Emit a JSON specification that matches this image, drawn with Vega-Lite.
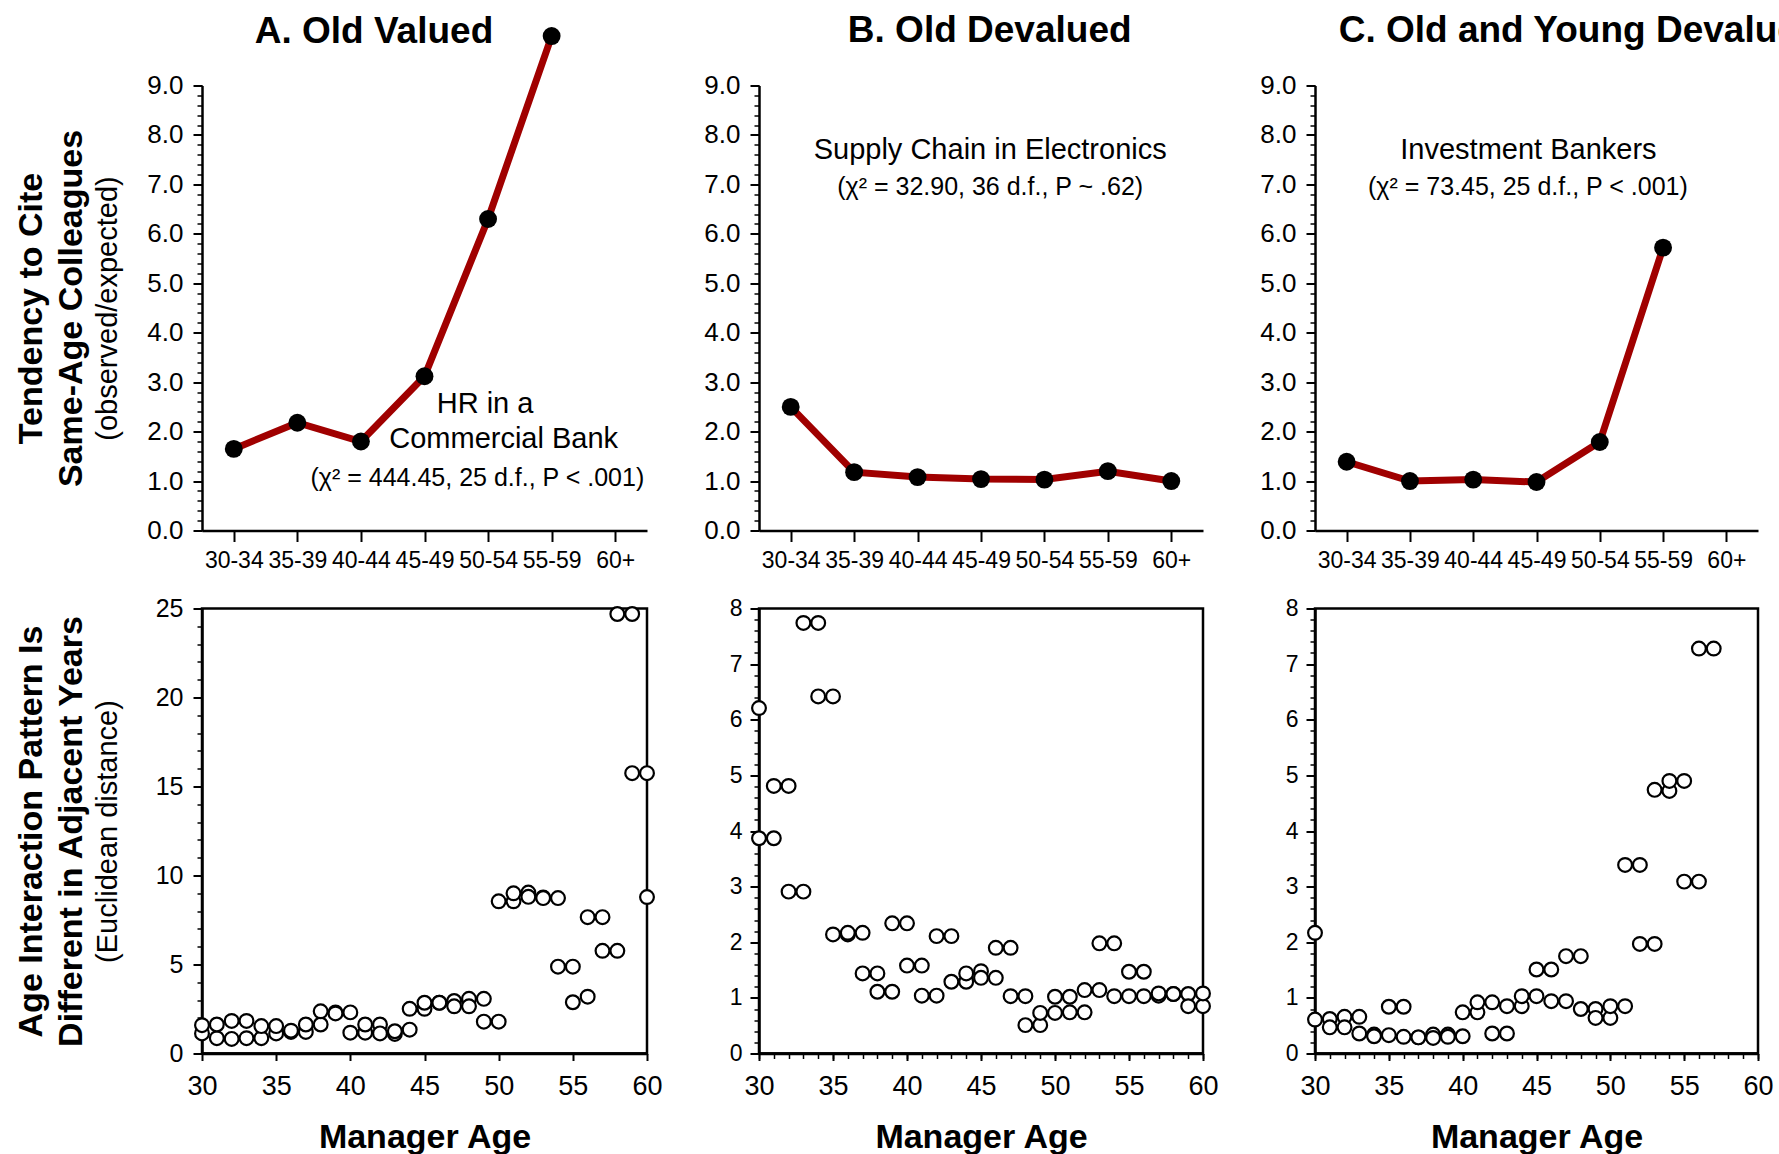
{
  "$schema": "https://vega.github.io/schema/vega-lite/v6.json",
  "background": "white",
  "padding": {"left": 13, "top": 11.5, "right": 5, "bottom": 2},
  "config": {
    "font": "Liberation Sans",
    "view": {"stroke": null},
    "axis": {"grid": false, "domainColor": "black", "tickColor": "black", "labelColor": "black", "titleColor": "black", "labelFont": "Liberation Sans", "titleFont": "Liberation Sans", "labelFlush": false, "labelOverlap": false},
    "title": {"font": "Liberation Sans", "fontSize": 37, "fontWeight": "bold", "color": "black", "anchor": "middle", "frame": "group"},
    "text": {"font": "Liberation Sans", "color": "black"}
  },
  "datasets": {
    "topA": [
      {"age": "30-34", "ratio": 1.65}, {"age": "35-39", "ratio": 2.18}, {"age": "40-44", "ratio": 1.80},
      {"age": "45-49", "ratio": 3.12}, {"age": "50-54", "ratio": 6.30}, {"age": "55-59", "ratio": 10.0}
    ],
    "topB": [
      {"age": "30-34", "ratio": 2.50}, {"age": "35-39", "ratio": 1.18}, {"age": "40-44", "ratio": 1.08},
      {"age": "45-49", "ratio": 1.04}, {"age": "50-54", "ratio": 1.03}, {"age": "55-59", "ratio": 1.20}, {"age": "60+", "ratio": 1.00}
    ],
    "topC": [
      {"age": "30-34", "ratio": 1.39}, {"age": "35-39", "ratio": 1.00}, {"age": "40-44", "ratio": 1.03},
      {"age": "45-49", "ratio": 0.98}, {"age": "50-54", "ratio": 1.79}, {"age": "55-59", "ratio": 5.72}
    ],
    "botA": [
      {"age": 30, "dist": 1.13}, {"age": 30, "dist": 1.59}, {"age": 31, "dist": 0.86}, {"age": 31, "dist": 1.63},
      {"age": 32, "dist": 0.82}, {"age": 32, "dist": 1.83}, {"age": 33, "dist": 0.86}, {"age": 33, "dist": 1.83},
      {"age": 34, "dist": 0.86}, {"age": 34, "dist": 1.54}, {"age": 35, "dist": 1.13}, {"age": 35, "dist": 1.54},
      {"age": 36, "dist": 1.21}, {"age": 36, "dist": 1.28}, {"age": 37, "dist": 1.21}, {"age": 37, "dist": 1.63},
      {"age": 38, "dist": 1.63}, {"age": 38, "dist": 2.37}, {"age": 39, "dist": 2.31}, {"age": 39, "dist": 2.25},
      {"age": 40, "dist": 2.31}, {"age": 40, "dist": 1.17}, {"age": 41, "dist": 1.17}, {"age": 41, "dist": 1.63},
      {"age": 42, "dist": 1.63}, {"age": 42, "dist": 1.13}, {"age": 43, "dist": 1.10}, {"age": 43, "dist": 1.25},
      {"age": 44, "dist": 1.34}, {"age": 44, "dist": 2.51}, {"age": 45, "dist": 2.51}, {"age": 45, "dist": 2.85},
      {"age": 46, "dist": 2.85}, {"age": 46, "dist": 2.85}, {"age": 47, "dist": 2.95}, {"age": 47, "dist": 2.65},
      {"age": 48, "dist": 3.07}, {"age": 48, "dist": 2.65}, {"age": 49, "dist": 3.07}, {"age": 49, "dist": 1.79},
      {"age": 50, "dist": 1.79}, {"age": 50, "dist": 8.55}, {"age": 51, "dist": 8.55}, {"age": 51, "dist": 9.00},
      {"age": 52, "dist": 9.04}, {"age": 52, "dist": 8.80}, {"age": 53, "dist": 8.77}, {"age": 53, "dist": 8.73},
      {"age": 54, "dist": 8.73}, {"age": 54, "dist": 4.88}, {"age": 55, "dist": 4.88}, {"age": 55, "dist": 2.88},
      {"age": 56, "dist": 3.19}, {"age": 56, "dist": 7.66}, {"age": 57, "dist": 7.66}, {"age": 57, "dist": 5.77},
      {"age": 58, "dist": 5.77}, {"age": 58, "dist": 24.69}, {"age": 59, "dist": 24.69}, {"age": 59, "dist": 15.75},
      {"age": 60, "dist": 15.75}, {"age": 60, "dist": 8.79}
    ],
    "botB": [
      {"age": 30, "dist": 6.21}, {"age": 30, "dist": 3.87}, {"age": 31, "dist": 3.87}, {"age": 31, "dist": 4.81},
      {"age": 32, "dist": 4.81}, {"age": 32, "dist": 2.91}, {"age": 33, "dist": 2.91}, {"age": 33, "dist": 7.74},
      {"age": 34, "dist": 7.74}, {"age": 34, "dist": 6.42}, {"age": 35, "dist": 6.42}, {"age": 35, "dist": 2.14},
      {"age": 36, "dist": 2.14}, {"age": 36, "dist": 2.17}, {"age": 37, "dist": 2.17}, {"age": 37, "dist": 1.44},
      {"age": 38, "dist": 1.44}, {"age": 38, "dist": 1.11}, {"age": 39, "dist": 1.11}, {"age": 39, "dist": 2.34},
      {"age": 40, "dist": 2.34}, {"age": 40, "dist": 1.58}, {"age": 41, "dist": 1.58}, {"age": 41, "dist": 1.04},
      {"age": 42, "dist": 1.04}, {"age": 42, "dist": 2.11}, {"age": 43, "dist": 2.11}, {"age": 43, "dist": 1.29},
      {"age": 44, "dist": 1.29}, {"age": 44, "dist": 1.44}, {"age": 45, "dist": 1.48}, {"age": 45, "dist": 1.36},
      {"age": 46, "dist": 1.36}, {"age": 46, "dist": 1.90}, {"age": 47, "dist": 1.90}, {"age": 47, "dist": 1.03},
      {"age": 48, "dist": 1.03}, {"age": 48, "dist": 0.51}, {"age": 49, "dist": 0.51}, {"age": 49, "dist": 0.73},
      {"age": 50, "dist": 0.73}, {"age": 50, "dist": 1.02}, {"age": 51, "dist": 1.02}, {"age": 51, "dist": 0.74},
      {"age": 52, "dist": 0.74}, {"age": 52, "dist": 1.14}, {"age": 53, "dist": 1.14}, {"age": 53, "dist": 1.98},
      {"age": 54, "dist": 1.98}, {"age": 54, "dist": 1.03}, {"age": 55, "dist": 1.03}, {"age": 55, "dist": 1.47},
      {"age": 56, "dist": 1.47}, {"age": 56, "dist": 1.03}, {"age": 57, "dist": 1.04}, {"age": 57, "dist": 1.08},
      {"age": 58, "dist": 1.07}, {"age": 58, "dist": 1.07}, {"age": 59, "dist": 1.07}, {"age": 59, "dist": 0.85},
      {"age": 60, "dist": 0.85}, {"age": 60, "dist": 1.08}
    ],
    "botC": [
      {"age": 30, "dist": 2.17}, {"age": 30, "dist": 0.61}, {"age": 31, "dist": 0.62}, {"age": 31, "dist": 0.47},
      {"age": 32, "dist": 0.66}, {"age": 32, "dist": 0.47}, {"age": 33, "dist": 0.66}, {"age": 33, "dist": 0.36},
      {"age": 34, "dist": 0.34}, {"age": 34, "dist": 0.31}, {"age": 35, "dist": 0.84}, {"age": 35, "dist": 0.33},
      {"age": 36, "dist": 0.84}, {"age": 36, "dist": 0.30}, {"age": 37, "dist": 0.29}, {"age": 37, "dist": 0.29},
      {"age": 38, "dist": 0.34}, {"age": 38, "dist": 0.28}, {"age": 39, "dist": 0.34}, {"age": 39, "dist": 0.30},
      {"age": 40, "dist": 0.31}, {"age": 40, "dist": 0.74}, {"age": 41, "dist": 0.74}, {"age": 41, "dist": 0.92},
      {"age": 42, "dist": 0.92}, {"age": 42, "dist": 0.36}, {"age": 43, "dist": 0.36}, {"age": 43, "dist": 0.85},
      {"age": 44, "dist": 0.85}, {"age": 44, "dist": 1.03}, {"age": 45, "dist": 1.03}, {"age": 45, "dist": 1.51},
      {"age": 46, "dist": 1.51}, {"age": 46, "dist": 0.94}, {"age": 47, "dist": 0.94}, {"age": 47, "dist": 1.75},
      {"age": 48, "dist": 1.75}, {"age": 48, "dist": 0.80}, {"age": 49, "dist": 0.80}, {"age": 49, "dist": 0.64},
      {"age": 50, "dist": 0.64}, {"age": 50, "dist": 0.85}, {"age": 51, "dist": 0.85}, {"age": 51, "dist": 3.39},
      {"age": 52, "dist": 3.39}, {"age": 52, "dist": 1.97}, {"age": 53, "dist": 1.97}, {"age": 53, "dist": 4.74},
      {"age": 54, "dist": 4.72}, {"age": 54, "dist": 4.90}, {"age": 55, "dist": 4.90}, {"age": 55, "dist": 3.09},
      {"age": 56, "dist": 3.09}, {"age": 56, "dist": 7.28}, {"age": 57, "dist": 7.28}
    ]
  },
  "columns": 3,
  "spacing": {"row": 78, "column": 112},
  "bounds": "flush",
  "concat": [
    {
      "width": 445, "height": 445,
      "title": {"text": "A. Old Valued", "dx": -50.5, "dy": 32.5},
      "data": {"name": "topA"},
      "layer": [
        {
          "mark": {"type": "line", "color": "#A00000", "strokeWidth": 7},
          "encoding": {
            "x": {"field": "age", "type": "ordinal", "scale": {"type": "point", "domain": ["30-34", "35-39", "40-44", "45-49", "50-54", "55-59", "60+"], "padding": 0.5},
                  "axis": {"orient": "bottom", "title": null, "labelAngle": 0, "labelFontSize": 23, "labelPadding": 8, "tickSize": 11, "tickWidth": 2, "domainWidth": 2.5}},
            "y": {"field": "ratio", "type": "quantitative", "scale": {"domain": [0, 9], "nice": false, "zero": false},
                  "axis": {"orient": "left", "values": [0, 1, 2, 3, 4, 5, 6, 7, 8, 9], "format": ".1f", "labelFontSize": 26, "labelPadding": 10, "tickSize": 9, "tickWidth": 2, "domainWidth": 2.5, "minExtent": 0, "maxExtent": 400,
                           "title": ["Tendency to Cite", "Same-Age Colleagues"], "titleFontSize": 34, "titleFontWeight": "bold", "titleLineHeight": 40, "titlePadding": 58.2}}
          }
        },
        {
          "mark": {"type": "circle", "color": "black", "size": 320, "opacity": 1},
          "encoding": {
            "x": {"field": "age", "type": "ordinal", "axis": null},
            "y": {"field": "ratio", "type": "quantitative",
                  "axis": {"orient": "left", "values": [0,0.2,0.4,0.6,0.8,1,1.2,1.4,1.6,1.8,2,2.2,2.4,2.6,2.8,3,3.2,3.4,3.6,3.8,4,4.2,4.4,4.6,4.8,5,5.2,5.4,5.6,5.8,6,6.2,6.4,6.6,6.8,7,7.2,7.4,7.6,7.8,8,8.2,8.4,8.6,8.8,9],
                           "labels": false, "domain": false, "tickSize": 5, "tickWidth": 1.5, "minExtent": 0, "maxExtent": 0,
                           "title": "(observed/expected)", "titleFontSize": 29, "titleFontWeight": "normal", "titlePadding": 79.8}}
          }
        },
        {
          "data": {"values": [{}]},
          "mark": {"type": "text", "text": "HR in a", "fontSize": 29, "dx": -3, "baseline": "middle"},
          "encoding": {"x": {"datum": "50-54", "type": "ordinal", "axis": null}, "y": {"datum": 2.56, "type": "quantitative", "axis": null}}
        },
        {
          "data": {"values": [{}]},
          "mark": {"type": "text", "text": "Commercial Bank", "fontSize": 29, "dx": 15.6, "baseline": "middle"},
          "encoding": {"x": {"datum": "50-54", "type": "ordinal", "axis": null}, "y": {"datum": 1.86, "type": "quantitative", "axis": null}}
        },
        {
          "data": {"values": [{}]},
          "mark": {"type": "text", "text": "(χ² = 444.45, 25 d.f., P < .001)", "fontSize": 25, "dx": -10.7, "baseline": "middle"},
          "encoding": {"x": {"datum": "50-54", "type": "ordinal", "axis": null}, "y": {"datum": 1.07, "type": "quantitative", "axis": null}}
        }
      ],
      "resolve": {"axis": {"x": "independent", "y": "independent"}}
    },
    {
      "width": 444, "height": 445,
      "title": {"text": "B. Old Devalued", "dx": 8.7, "dy": -19},
      "data": {"name": "topB"},
      "layer": [
        {
          "mark": {"type": "line", "color": "#A00000", "strokeWidth": 7},
          "encoding": {
            "x": {"field": "age", "type": "ordinal", "scale": {"type": "point", "domain": ["30-34", "35-39", "40-44", "45-49", "50-54", "55-59", "60+"], "padding": 0.5},
                  "axis": {"orient": "bottom", "title": null, "labelAngle": 0, "labelFontSize": 23, "labelPadding": 8, "tickSize": 11, "tickWidth": 2, "domainWidth": 2.5}},
            "y": {"field": "ratio", "type": "quantitative", "scale": {"domain": [0, 9], "nice": false, "zero": false},
                  "axis": {"orient": "left", "values": [0, 1, 2, 3, 4, 5, 6, 7, 8, 9], "format": ".1f", "labelFontSize": 26, "labelPadding": 10, "tickSize": 9, "tickWidth": 2, "domainWidth": 2.5, "title": null}}
          }
        },
        {
          "mark": {"type": "circle", "color": "black", "size": 320, "opacity": 1},
          "encoding": {
            "x": {"field": "age", "type": "ordinal", "axis": null},
            "y": {"field": "ratio", "type": "quantitative",
                  "axis": {"orient": "left", "values": [0,0.2,0.4,0.6,0.8,1,1.2,1.4,1.6,1.8,2,2.2,2.4,2.6,2.8,3,3.2,3.4,3.6,3.8,4,4.2,4.4,4.6,4.8,5,5.2,5.4,5.6,5.8,6,6.2,6.4,6.6,6.8,7,7.2,7.4,7.6,7.8,8,8.2,8.4,8.6,8.8,9],
                           "labels": false, "domain": false, "tickSize": 5, "tickWidth": 1.5, "title": null}}
          }
        },
        {
          "data": {"values": [{}]},
          "mark": {"type": "text", "text": "Supply Chain in Electronics", "fontSize": 29, "dx": 9.2, "baseline": "middle"},
          "encoding": {"x": {"datum": "45-49", "type": "ordinal", "axis": null}, "y": {"datum": 7.69, "type": "quantitative", "axis": null}}
        },
        {
          "data": {"values": [{}]},
          "mark": {"type": "text", "text": "(χ² = 32.90, 36 d.f., P ~ .62)", "fontSize": 25, "dx": 9.2, "baseline": "middle"},
          "encoding": {"x": {"datum": "45-49", "type": "ordinal", "axis": null}, "y": {"datum": 6.94, "type": "quantitative", "axis": null}}
        }
      ],
      "resolve": {"axis": {"x": "independent", "y": "independent"}}
    },
    {
      "width": 443, "height": 445,
      "title": {"text": "C. Old and Young Devalued", "dx": 43.1, "dy": -19},
      "data": {"name": "topC"},
      "layer": [
        {
          "mark": {"type": "line", "color": "#A00000", "strokeWidth": 7},
          "encoding": {
            "x": {"field": "age", "type": "ordinal", "scale": {"type": "point", "domain": ["30-34", "35-39", "40-44", "45-49", "50-54", "55-59", "60+"], "padding": 0.5},
                  "axis": {"orient": "bottom", "title": null, "labelAngle": 0, "labelFontSize": 23, "labelPadding": 8, "tickSize": 11, "tickWidth": 2, "domainWidth": 2.5}},
            "y": {"field": "ratio", "type": "quantitative", "scale": {"domain": [0, 9], "nice": false, "zero": false},
                  "axis": {"orient": "left", "values": [0, 1, 2, 3, 4, 5, 6, 7, 8, 9], "format": ".1f", "labelFontSize": 26, "labelPadding": 10, "tickSize": 9, "tickWidth": 2, "domainWidth": 2.5, "title": null}}
          }
        },
        {
          "mark": {"type": "circle", "color": "black", "size": 320, "opacity": 1},
          "encoding": {
            "x": {"field": "age", "type": "ordinal", "axis": null},
            "y": {"field": "ratio", "type": "quantitative",
                  "axis": {"orient": "left", "values": [0,0.2,0.4,0.6,0.8,1,1.2,1.4,1.6,1.8,2,2.2,2.4,2.6,2.8,3,3.2,3.4,3.6,3.8,4,4.2,4.4,4.6,4.8,5,5.2,5.4,5.6,5.8,6,6.2,6.4,6.6,6.8,7,7.2,7.4,7.6,7.8,8,8.2,8.4,8.6,8.8,9],
                           "labels": false, "domain": false, "tickSize": 5, "tickWidth": 1.5, "title": null}}
          }
        },
        {
          "data": {"values": [{}]},
          "mark": {"type": "text", "text": "Investment Bankers", "fontSize": 29, "dx": -8.1, "baseline": "middle"},
          "encoding": {"x": {"datum": "45-49", "type": "ordinal", "axis": null}, "y": {"datum": 7.69, "type": "quantitative", "axis": null}}
        },
        {
          "data": {"values": [{}]},
          "mark": {"type": "text", "text": "(χ² = 73.45, 25 d.f., P < .001)", "fontSize": 25, "dx": -8.6, "baseline": "middle"},
          "encoding": {"x": {"datum": "45-49", "type": "ordinal", "axis": null}, "y": {"datum": 6.94, "type": "quantitative", "axis": null}}
        }
      ],
      "resolve": {"axis": {"x": "independent", "y": "independent"}}
    },
    {
      "width": 445, "height": 445,
      "view": {"stroke": "black", "strokeWidth": 2.5},
      "data": {"name": "botA"},
      "layer": [
        {
          "data": {"values": [{}]},
          "mark": {"type": "rule", "color": "black", "strokeWidth": 2.5},
          "encoding": {
            "x": {"datum": 30, "type": "quantitative", "axis": null},
            "x2": {"datum": 60},
            "y": {"datum": 0, "type": "quantitative",
                  "axis": {"orient": "left", "values": [0,1,2,3,4,5,6,7,8,9,10,11,12,13,14,15,16,17,18,19,20,21,22,23,24,25], "labels": false, "domain": false, "tickSize": 5, "tickWidth": 1.5, "minExtent": 0, "maxExtent": 0,
                           "title": "(Euclidean distance)", "titleFontSize": 29, "titleFontWeight": "normal", "titlePadding": 79.8}}
          }
        },
        {
          "mark": {"type": "point", "shape": "circle", "filled": true, "fill": "white", "stroke": "black", "strokeWidth": 2.2, "size": 190, "opacity": 1},
          "encoding": {
            "x": {"field": "age", "type": "quantitative", "scale": {"domain": [30, 60], "nice": false, "zero": false},
                  "axis": {"orient": "bottom", "values": [30, 35, 40, 45, 50, 55, 60], "labelFontSize": 27, "labelPadding": 13, "tickSize": 7, "tickWidth": 2, "domainWidth": 2.5,
                           "title": "Manager Age", "titleFontSize": 34, "titleFontWeight": "bold", "titlePadding": 21}},
            "y": {"field": "dist", "type": "quantitative", "scale": {"domain": [0, 25], "nice": false, "zero": false},
                  "axis": {"orient": "left", "values": [0, 5, 10, 15, 20, 25], "labelFontSize": 25, "labelPadding": 10, "tickSize": 9, "tickWidth": 2, "domainWidth": 2.5, "minExtent": 0, "maxExtent": 400,
                           "title": ["Age Interaction Pattern Is", "Different in Adjacent Years"], "titleFontSize": 34, "titleFontWeight": "bold", "titleLineHeight": 40, "titlePadding": 66.4}}
          }
        }
      ],
      "resolve": {"axis": {"x": "independent", "y": "independent"}}
    },
    {
      "width": 444, "height": 445,
      "view": {"stroke": "black", "strokeWidth": 2.5},
      "data": {"name": "botB"},
      "layer": [
        {
          "data": {"values": [{}]},
          "mark": {"type": "rule", "color": "black", "strokeWidth": 2.5},
          "encoding": {
            "x": {"datum": 30, "type": "quantitative",
                  "axis": {"orient": "bottom", "values": [30,31,32,33,34,35,36,37,38,39,40,41,42,43,44,45,46,47,48,49,50,51,52,53,54,55,56,57,58,59,60], "labels": false, "domain": false, "tickSize": 5, "tickWidth": 1.5, "title": null}},
            "x2": {"datum": 60},
            "y": {"datum": 0, "type": "quantitative",
                  "axis": {"orient": "left", "values": [0,0.2,0.4,0.6,0.8,1,1.2,1.4,1.6,1.8,2,2.2,2.4,2.6,2.8,3,3.2,3.4,3.6,3.8,4,4.2,4.4,4.6,4.8,5,5.2,5.4,5.6,5.8,6,6.2,6.4,6.6,6.8,7,7.2,7.4,7.6,7.8,8], "labels": false, "domain": false, "tickSize": 5, "tickWidth": 1.5, "title": null}}
          }
        },
        {
          "mark": {"type": "point", "shape": "circle", "filled": true, "fill": "white", "stroke": "black", "strokeWidth": 2.2, "size": 190, "opacity": 1},
          "encoding": {
            "x": {"field": "age", "type": "quantitative", "scale": {"domain": [30, 60], "nice": false, "zero": false},
                  "axis": {"orient": "bottom", "values": [30, 35, 40, 45, 50, 55, 60], "labelFontSize": 27, "labelPadding": 13, "tickSize": 7, "tickWidth": 2, "domainWidth": 2.5,
                           "title": "Manager Age", "titleFontSize": 34, "titleFontWeight": "bold", "titlePadding": 21}},
            "y": {"field": "dist", "type": "quantitative", "scale": {"domain": [0, 8], "nice": false, "zero": false},
                  "axis": {"orient": "left", "values": [0, 1, 2, 3, 4, 5, 6, 7, 8], "labelFontSize": 23, "labelPadding": 8, "tickSize": 9, "tickWidth": 2, "domainWidth": 2.5, "title": null}}
          }
        }
      ],
      "resolve": {"axis": {"x": "independent", "y": "independent"}}
    },
    {
      "width": 443, "height": 445,
      "view": {"stroke": "black", "strokeWidth": 2.5},
      "data": {"name": "botC"},
      "layer": [
        {
          "data": {"values": [{}]},
          "mark": {"type": "rule", "color": "black", "strokeWidth": 2.5},
          "encoding": {
            "x": {"datum": 30, "type": "quantitative",
                  "axis": {"orient": "bottom", "values": [30,31,32,33,34,35,36,37,38,39,40,41,42,43,44,45,46,47,48,49,50,51,52,53,54,55,56,57,58,59,60], "labels": false, "domain": false, "tickSize": 5, "tickWidth": 1.5, "title": null}},
            "x2": {"datum": 60},
            "y": {"datum": 0, "type": "quantitative",
                  "axis": {"orient": "left", "values": [0,0.2,0.4,0.6,0.8,1,1.2,1.4,1.6,1.8,2,2.2,2.4,2.6,2.8,3,3.2,3.4,3.6,3.8,4,4.2,4.4,4.6,4.8,5,5.2,5.4,5.6,5.8,6,6.2,6.4,6.6,6.8,7,7.2,7.4,7.6,7.8,8], "labels": false, "domain": false, "tickSize": 5, "tickWidth": 1.5, "title": null}}
          }
        },
        {
          "mark": {"type": "point", "shape": "circle", "filled": true, "fill": "white", "stroke": "black", "strokeWidth": 2.2, "size": 190, "opacity": 1},
          "encoding": {
            "x": {"field": "age", "type": "quantitative", "scale": {"domain": [30, 60], "nice": false, "zero": false},
                  "axis": {"orient": "bottom", "values": [30, 35, 40, 45, 50, 55, 60], "labelFontSize": 27, "labelPadding": 13, "tickSize": 7, "tickWidth": 2, "domainWidth": 2.5,
                           "title": "Manager Age", "titleFontSize": 34, "titleFontWeight": "bold", "titlePadding": 21}},
            "y": {"field": "dist", "type": "quantitative", "scale": {"domain": [0, 8], "nice": false, "zero": false},
                  "axis": {"orient": "left", "values": [0, 1, 2, 3, 4, 5, 6, 7, 8], "labelFontSize": 23, "labelPadding": 8, "tickSize": 9, "tickWidth": 2, "domainWidth": 2.5, "title": null}}
          }
        }
      ],
      "resolve": {"axis": {"x": "independent", "y": "independent"}}
    }
  ]
}
